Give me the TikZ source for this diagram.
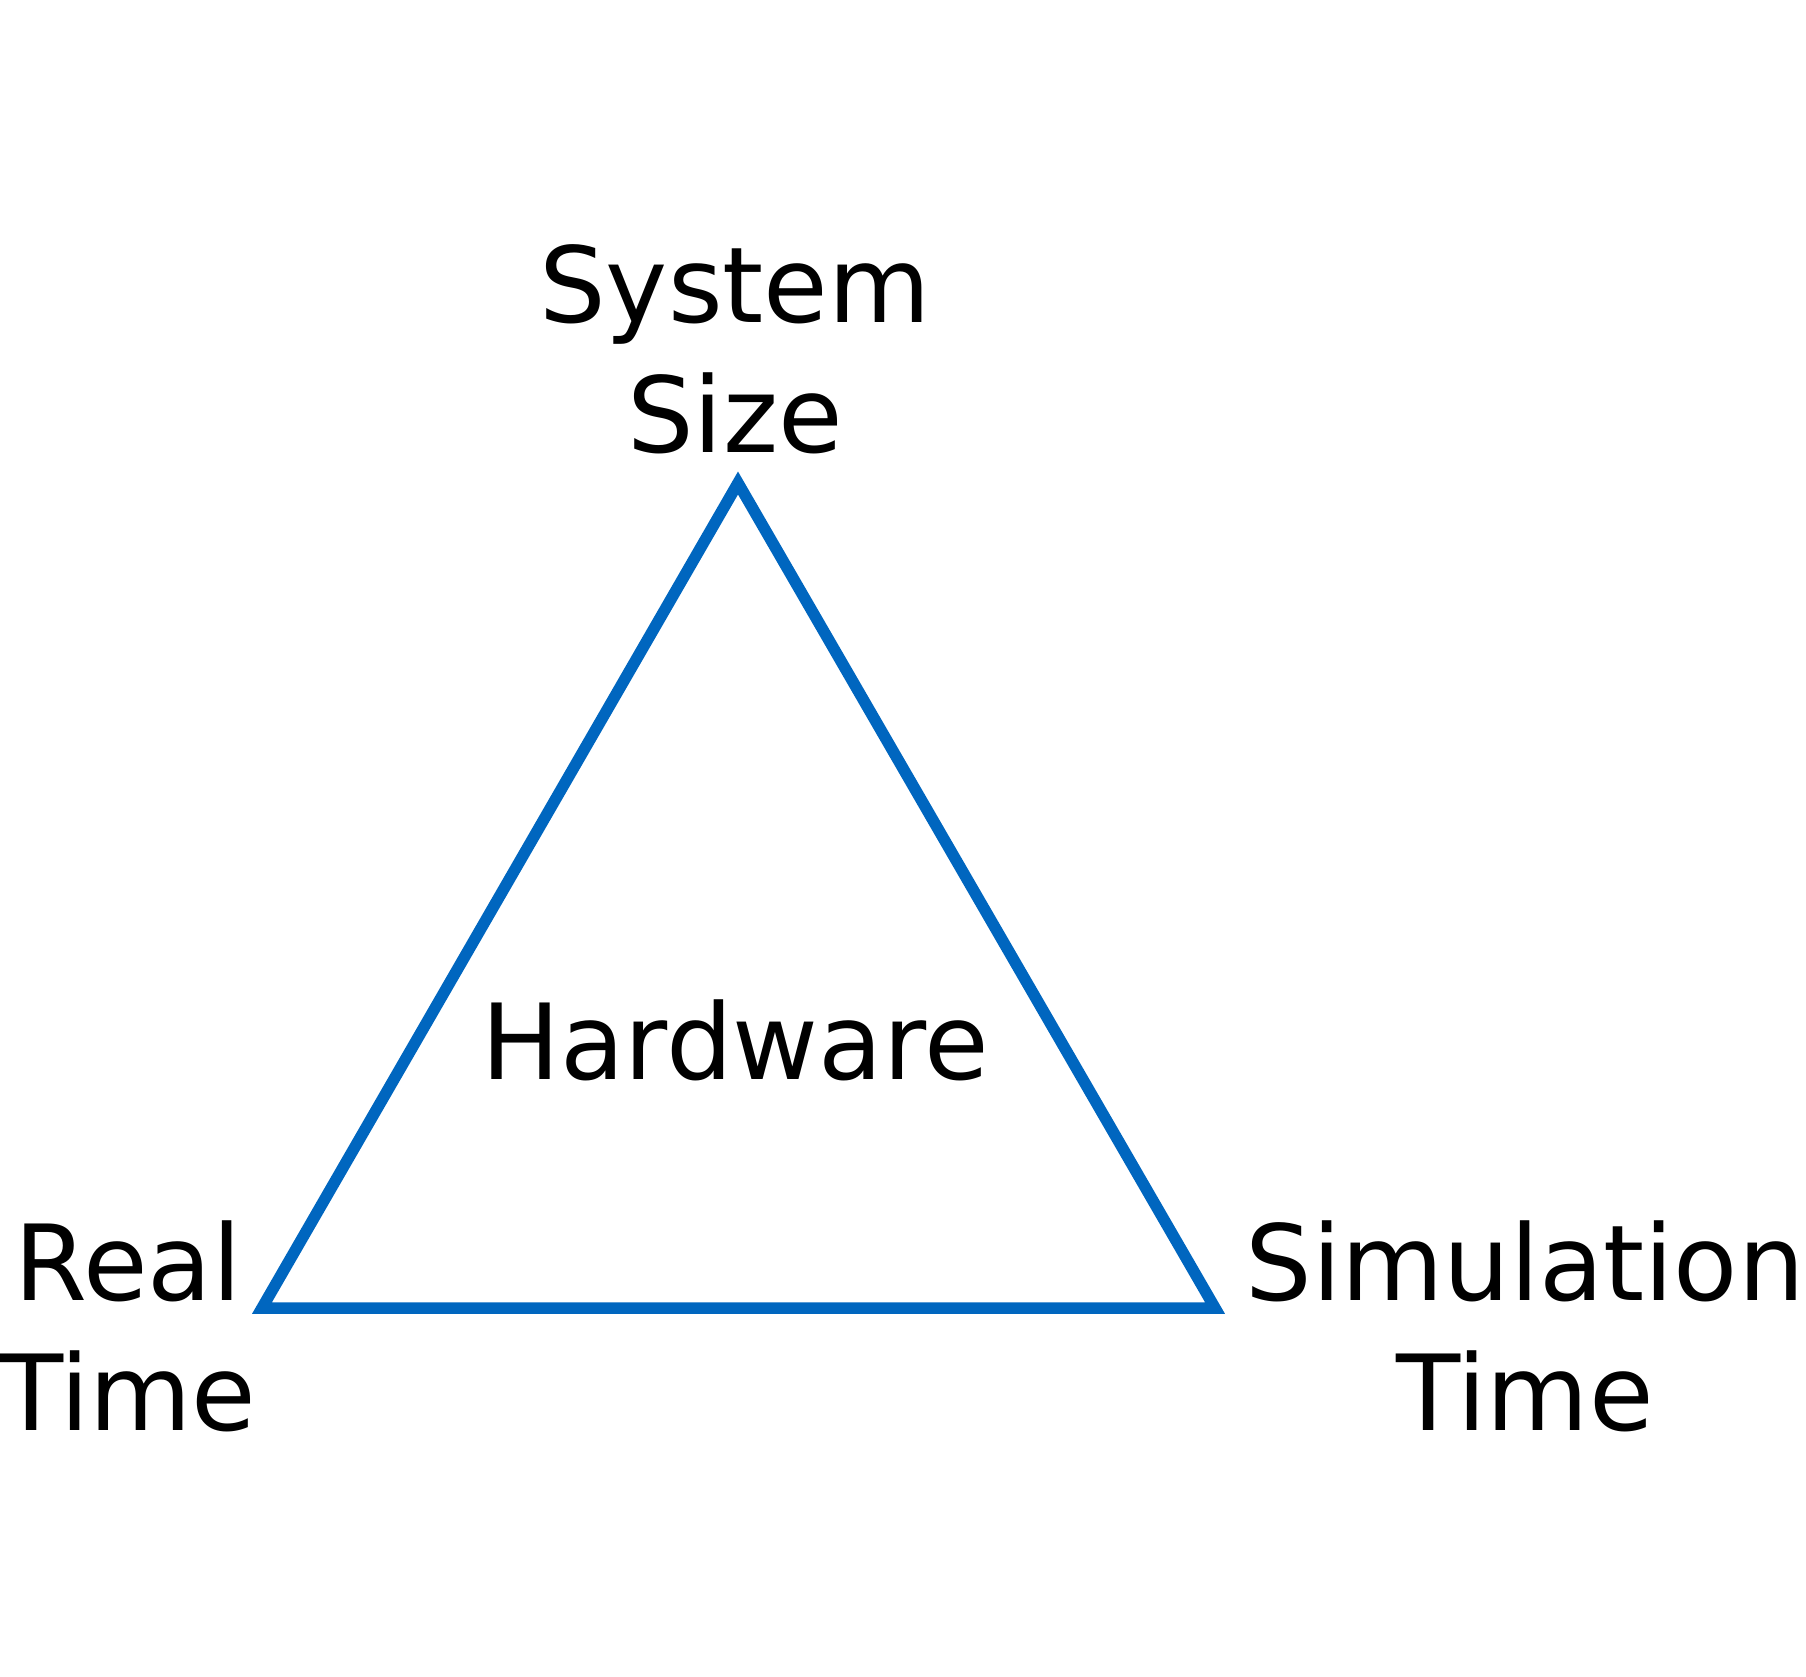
\documentclass[tikz,border=0pt]{standalone}
\usepackage{fontspec}
\setmainfont{DejaVu Sans}
\definecolor{triblue}{RGB}{0,102,191}
\tikzset{
  lbl/.style={inner sep=0pt, align=center, font=\fontsize{105}{130}\selectfont, anchor=base},
  edge/.style={draw=triblue, line width=11.5pt, line join=miter}
}
\begin{document}
\begin{tikzpicture}[x=1pt,y=-1pt]
\useasboundingbox[fill=white] (0,0) rectangle (1806,1676);
\coordinate (apex) at (738,483);
\coordinate (bl) at (262,1308);
\coordinate (br) at (1215,1308);
\draw[edge] (apex) -- (bl) -- (br) -- cycle;
\node[lbl] (sys) at (735,452) {System\\Size};
\node[lbl] (hw) at (735,1079) {Hardware};
\node[lbl] (rt) at (128,1430) {Real\\Time};
\node[lbl] (st) at (1525,1430) {Simulation\\Time};
\end{tikzpicture}
\end{document}
